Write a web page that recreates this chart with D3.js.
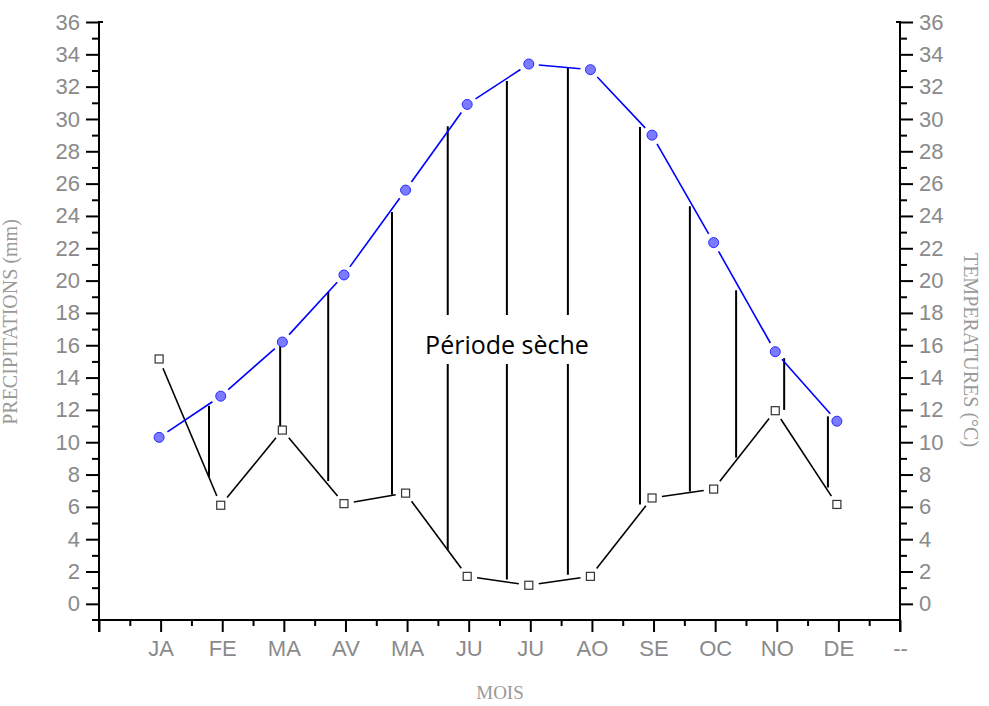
<!DOCTYPE html>
<html>
<head>
<meta charset="utf-8">
<script src="https://cdn.jsdelivr.net/npm/d3@7"></script>
<style>
  html, body { margin: 0; padding: 0; background: #fff; }
  svg { display: block; }
</style>
</head>
<body>
<div id="chart"></div>
<script>
// ---- Data ----
const months = ["JA","FE","MA","AV","MA","JU","JU","AO","SE","OC","NO","DE","--"];
const monthPos = [1,2,3,4,5,6,7,8,9,10,11,12,13];
const temperatures = [10.3,12.85,16.2,20.35,25.6,30.9,33.4,33.05,29.0,22.35,15.6,11.3];
const precipitations = [15.15,6.1,10.75,6.2,6.85,1.7,1.15,1.7,6.55,7.1,11.95,6.15];
// dry-period hatching: position (month units), top and bottom values
const hatchPos = [1.785,2.94,3.72,4.755,5.66,6.62,7.61,8.78,9.59,10.34,11.12,11.83];
const hatchTop = [12.25,16.45,19.3,24.25,29.55,32.35,33.15,29.5,24.6,19.4,15.2,11.6];
const hatchBottom = [7.85,10.6,7.6,6.75,3.35,1.5,1.8,6.15,6.95,9.05,12.0,7.2];
const yMajorTicks = d3.range(0, 37, 2);
const yMinorTicks = d3.range(1, 36, 2);
const xMajorTicks = d3.range(0, 14, 1);
const xMinorTicks = d3.range(0.5, 13, 1);

const W = 989, H = 706;
const svg = d3.select("#chart").append("svg").attr("width", W).attr("height", H);

const x = d3.scaleLinear().domain([0, 13]).range([99, 900]);
const y = d3.scaleLinear().domain([-1, 36]).range([620, 22]);

const labelColor = "#8a8a8a";
const titleColor = "#9a9a9a";

// ---- Axes ----
const gAx = svg.append("g");
gAx.append("g").attr("transform", `translate(${x(0)},0)`)
  .call(d3.axisLeft(y).tickValues(yMajorTicks).tickSize(13).tickPadding(6).tickFormat(d3.format("d")));
gAx.append("g").attr("transform", `translate(${x(0)},0)`)
  .call(d3.axisLeft(y).tickValues(yMinorTicks).tickSize(7).tickFormat(""));
gAx.append("g").attr("transform", `translate(${x(13)},0)`)
  .call(d3.axisRight(y).tickValues(yMajorTicks).tickSize(13).tickPadding(6).tickFormat(d3.format("d")));
gAx.append("g").attr("transform", `translate(${x(13)},0)`)
  .call(d3.axisRight(y).tickValues(yMinorTicks).tickSize(7).tickFormat(""));
gAx.append("g").attr("transform", `translate(0,${y(-1)})`)
  .call(d3.axisBottom(x).tickValues(xMajorTicks).tickSize(12).tickPadding(8)
    .tickFormat(d => d === 0 ? "" : months[monthPos.indexOf(d)]));
gAx.append("g").attr("transform", `translate(0,${y(-1)})`)
  .call(d3.axisBottom(x).tickValues(xMinorTicks).tickSize(6).tickFormat(""));

gAx.selectAll(".domain").remove();
gAx.selectAll(".tick line").attr("stroke", "#000").attr("stroke-width", 2);
gAx.selectAll(".tick text").attr("fill", labelColor)
  .style("font-family", "'Liberation Sans', Arial, sans-serif").style("font-size", "22px");

// axis lines
gAx.append("line").attr("x1", x(0)).attr("x2", x(0)).attr("y1", y(36) - 1).attr("y2", y(-1) + 12)
  .attr("stroke", "#000").attr("stroke-width", 2);
gAx.append("line").attr("x1", x(13)).attr("x2", x(13)).attr("y1", y(36) - 1).attr("y2", y(-1) + 12)
  .attr("stroke", "#000").attr("stroke-width", 2);
gAx.append("line").attr("x1", x(0) - 7).attr("x2", x(13)).attr("y1", y(-1)).attr("y2", y(-1))
  .attr("stroke", "#000").attr("stroke-width", 2);
gAx.append("line").attr("x1", x(0)).attr("x2", x(0) + 4).attr("y1", y(36)).attr("y2", y(36))
  .attr("stroke", "#000").attr("stroke-width", 2);
gAx.append("line").attr("x1", x(13) - 4).attr("x2", x(13)).attr("y1", y(36)).attr("y2", y(36))
  .attr("stroke", "#000").attr("stroke-width", 2);

// axis titles
svg.append("text").attr("transform", `translate(17,322) rotate(-90)`)
  .attr("text-anchor", "middle").attr("fill", titleColor)
  .style("font-family", "'Liberation Serif', 'Times New Roman', serif").style("font-size", "20px")
  .text("PRECIPITATIONS (mm)");
svg.append("text").attr("transform", `translate(964,350) rotate(90)`)
  .attr("text-anchor", "middle").attr("fill", titleColor)
  .style("font-family", "'Liberation Serif', 'Times New Roman', serif").style("font-size", "20px")
  .text("TEMPERATURES (°C)");
svg.append("text").attr("x", 500).attr("y", 699)
  .attr("text-anchor", "middle").attr("fill", titleColor)
  .style("font-family", "'Liberation Serif', 'Times New Roman', serif").style("font-size", "19px")
  .text("MOIS");

// ---- Hatching ----
svg.append("g").selectAll("line").data(hatchPos).join("line")
  .attr("x1", (d) => x(d)).attr("x2", (d) => x(d))
  .attr("y1", (d, i) => y(hatchTop[i])).attr("y2", (d, i) => y(hatchBottom[i]))
  .attr("stroke", "#000").attr("stroke-width", 2);

// label with background gap
const lblX = 507, lblY = 354;
svg.append("rect").attr("x", lblX - 86).attr("y", lblY - 39).attr("width", 172).attr("height", 49).attr("fill", "#fff");
svg.append("text").attr("x", lblX).attr("y", lblY).attr("text-anchor", "middle").attr("fill", "#000")
  .style("font-family", "'Open Sans', 'Noto Sans', sans-serif").style("font-size", "25px")
  .text("Période sèche");

// ---- Series lines with gaps near markers ----
function gappedSegments(g, vals, gap, color, width) {
  const pts = vals.map((v, i) => [x(monthPos[i]) - 1.5, y(v)]);
  const segs = [];
  for (let i = 0; i < pts.length - 1; i++) {
    const [x1, y1] = pts[i], [x2, y2] = pts[i + 1];
    const len = Math.hypot(x2 - x1, y2 - y1);
    const ux = (x2 - x1) / len, uy = (y2 - y1) / len;
    segs.push([x1 + ux * gap, y1 + uy * gap, x2 - ux * gap, y2 - uy * gap]);
  }
  g.selectAll("line").data(segs).join("line")
    .attr("x1", d => d[0]).attr("y1", d => d[1]).attr("x2", d => d[2]).attr("y2", d => d[3])
    .attr("stroke", color).attr("stroke-width", width);
}
gappedSegments(svg.append("g"), precipitations, 10, "#000", 1.6);
gappedSegments(svg.append("g"), temperatures, 10, "#0000ff", 1.6);

// markers
svg.append("g").selectAll("rect").data(precipitations).join("rect")
  .attr("x", (d, i) => x(monthPos[i]) - 1.5 - 4).attr("y", d => y(d) - 4)
  .attr("width", 8).attr("height", 8)
  .attr("fill", "#fff").attr("stroke", "#333").attr("stroke-width", 1.2);
svg.append("g").selectAll("circle").data(temperatures).join("circle")
  .attr("cx", (d, i) => x(monthPos[i]) - 1.5).attr("cy", d => y(d)).attr("r", 5)
  .attr("fill", "#7b7bff").attr("stroke", "#2a2aff").attr("stroke-width", 1);
</script>
</body>
</html>
